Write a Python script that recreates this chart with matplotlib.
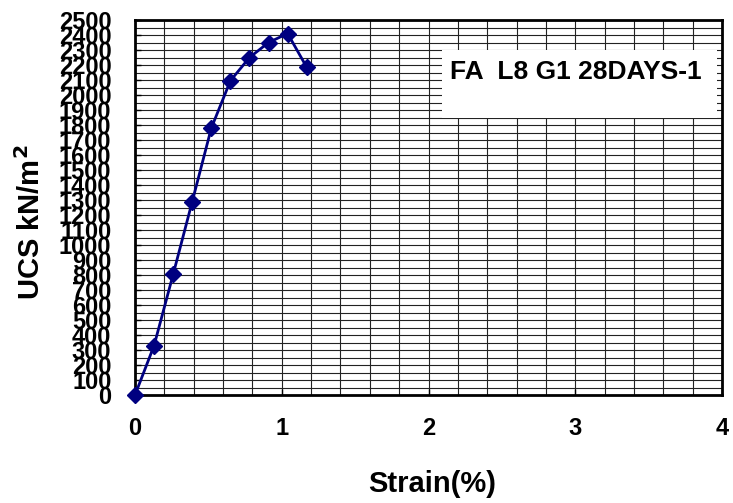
import numpy as np
import matplotlib.pyplot as plt
from matplotlib.ticker import MultipleLocator

# Dados
strain = [0.0, 0.13, 0.26, 0.39, 0.52, 0.65, 0.78, 0.91, 1.04, 1.17]
ucs = [0, 330, 805, 1290, 1780, 2095, 2250, 2350, 2410, 2185]

y_ticks = list(range(0, 2501, 100))
x_ticks = [0, 1, 2, 3, 4]
titulo = "FA  L8 G1 28DAYS-1"

plt.rcParams['font.family'] = ['Liberation Sans', 'DejaVu Sans']

fig = plt.figure(figsize=(7.33, 5.03), dpi=100)
ax = fig.add_axes([0.1842, 0.2147, 0.8008, 0.7455])

ax.set_xlim(0, 4)
ax.set_ylim(0, 2500)

# grade fina
ax.xaxis.set_minor_locator(MultipleLocator(0.2))
ax.yaxis.set_minor_locator(MultipleLocator(50))
ax.grid(which='both', color='#222222', linewidth=0.8)
ax.set_axisbelow(True)

ax.plot(strain, ucs, color='#000080', linewidth=2, marker='D',
        markersize=8.5, clip_on=False, zorder=5)

ax.set_xticks(x_ticks)
ax.set_xticklabels([str(v) for v in x_ticks], fontsize=17, fontweight='bold')
ax.set_yticks(y_ticks)
ax.set_yticklabels([str(v) for v in y_ticks], fontsize=17, fontweight='bold')
ax.tick_params(axis='both', which='major', direction='in', length=4, width=1)
ax.tick_params(axis='x', pad=16)
ax.tick_params(axis='y', pad=17)
ax.tick_params(which='minor', length=0)

for s in ax.spines.values():
    s.set_linewidth(2)
    s.set_color('black')

ax.set_xlabel('Strain(%)', fontsize=21, fontweight='bold')
ax.xaxis.set_label_coords(0.506, -0.20)
ax.set_ylabel('UCS kN/m$^\\mathbf{2}$', fontsize=21, fontweight='bold')
ax.yaxis.set_label_coords(-0.152, 0.46)

# caixa com o nome do ensaio
box = plt.Rectangle((0.523, 0.739), 0.468, 0.181, transform=ax.transAxes,
                    facecolor='white', edgecolor='none', zorder=4)
ax.add_patch(box)
ax.text(0.537, 0.862, titulo, transform=ax.transAxes, fontsize=19,
        fontweight='bold', ha='left', va='center', zorder=6)

fig.savefig('out.png', dpi=100)
